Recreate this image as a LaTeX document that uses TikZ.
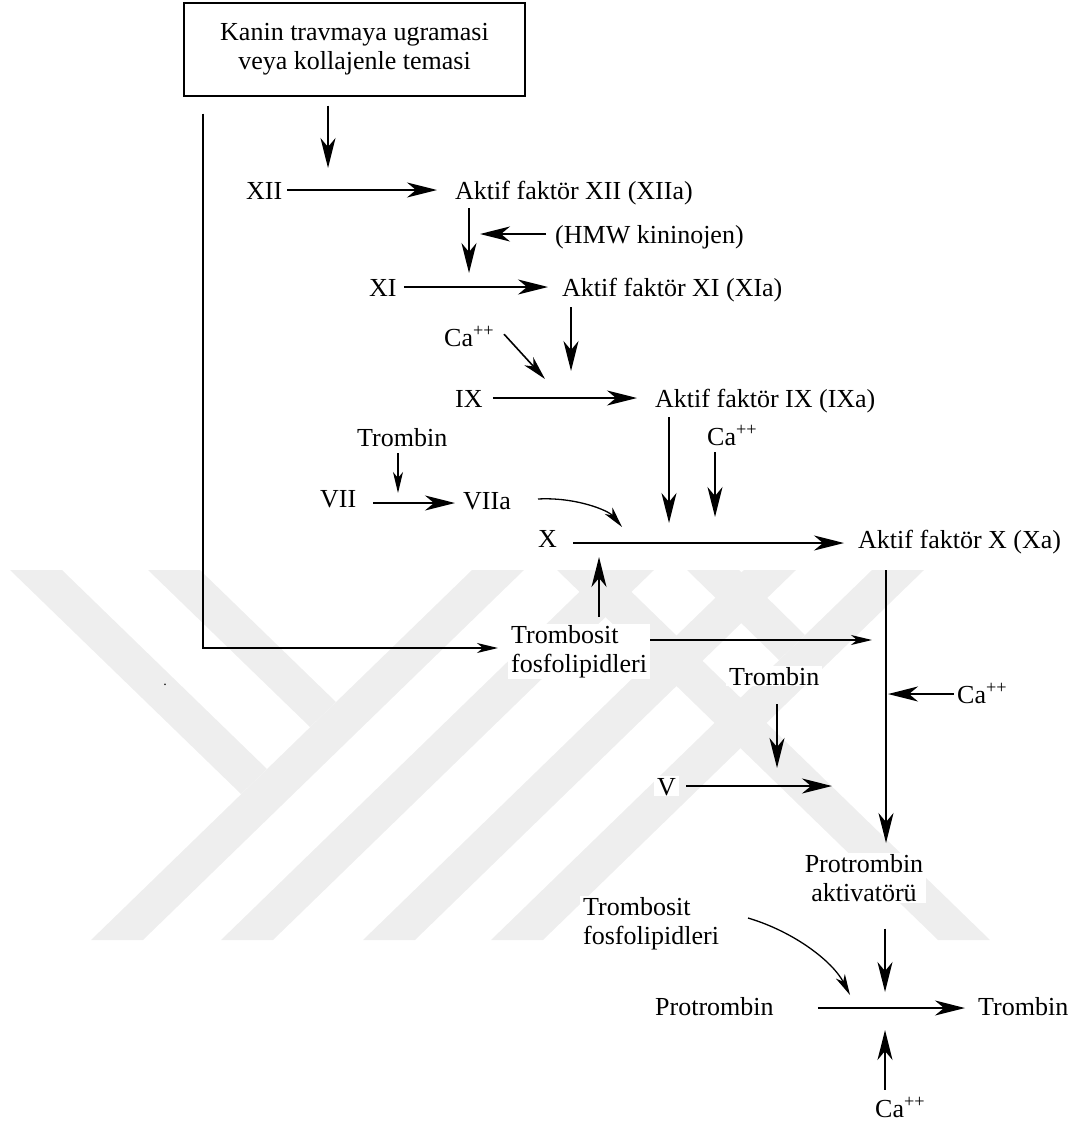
\documentclass[tikz,border=0pt]{standalone}
\usepackage{fontspec}
\setmainfont{Liberation Serif}
\usetikzlibrary{arrows.meta}
\definecolor{filigran}{RGB}{238,238,238}
\begin{document}
\begin{tikzpicture}[x=1pt,y=-1pt,
    yazi/.style={font=\fontsize{26}{29}\selectfont,fill=white,inner xsep=3pt,inner ysep=1pt,text height=18pt,text depth=0pt,anchor=base west},
    yazi2/.style={font=\fontsize{26}{29}\selectfont,fill=white,inner xsep=3pt,inner ysep=1pt,align=left,anchor=north west},
    ok/.style={line width=1.6pt,-{Stealth[length=30pt,width=15pt,inset=9pt]}},
    okk/.style={line width=1.3pt,-{Stealth[length=21pt,width=10pt,inset=6pt]}}]
    \useasboundingbox (0,0) rectangle (1078,1124);
    %filigran
    \fill[filigran] (10,570)--(62,570)--(267,769)--(241,794)--cycle;
    \fill[filigran] (148,570)--(200,570)--(336,702)--(310,727)--cycle;
    \fill[filigran] (472,570)--(524,570)--(143,940)--(91,940)--cycle;
    \fill[filigran] (602,570)--(654,570)--(273,940)--(221,940)--cycle;
    \fill[filigran] (744,570)--(796,570)--(415,940)--(363,940)--cycle;
    \fill[filigran] (872,570)--(924,570)--(543,940)--(491,940)--cycle;
    \fill[filigran] (557,570)--(609,570)--(990,940)--(938,940)--cycle;
    \fill[filigran] (687,570)--(739,570)--(805,635)--(779,660)--cycle;
    %kutu
    \node[draw,line width=1.2pt,minimum width=341pt,minimum height=93pt,align=center,font=\fontsize{26}{29}\selectfont] (kutu) at (354.5,49.5) {Kanin travmaya ugramasi\\veya kollajenle temasi};
    %faktorler
    \node[yazi] (f12) at (243,199) {XII};
    \node[yazi] (f12a) at (452,199) {Aktif faktör XII (XIIa)};
    \node[yazi] (hmw) at (552,243) {(HMW kininojen)};
    \node[yazi] (f11) at (366,296) {XI};
    \node[yazi] (f11a) at (559,296) {Aktif faktör XI (XIa)};
    \node[yazi] (ca1) at (441,346) {Ca\textsuperscript{++}};
    \node[yazi] (f9) at (452,407) {IX};
    \node[yazi] (f9a) at (652,407) {Aktif faktör IX (IXa)};
    \node[yazi] (trb1) at (354,446) {Trombin};
    \node[yazi] (ca2) at (704,445) {Ca\textsuperscript{++}};
    \node[yazi] (f7) at (317,507) {VII};
    \node[yazi] (f7a) at (460,509) {VIIa};
    \node[yazi] (f10) at (535,547) {X};
    \node[yazi] (f10a) at (855,548) {Aktif faktör X (Xa)};
    \node[yazi2] (tf1) at (508,624) {Trombosit\\fosfolipidleri};
    \node[yazi] (trb2) at (726,685) {Trombin};
    \node[yazi] (ca3) at (954,703) {Ca\textsuperscript{++}};
    \node[yazi] (f5) at (654,795) {V};
    \node[yazi2,align=center,anchor=north] (pa) at (864,853) {Protrombin\\aktivatörü};
    \node[yazi2] (tf2) at (580,896) {Trombosit\\fosfolipidleri};
    \node[yazi] (pro) at (652,1015) {Protrombin};
    \node[yazi] (trb3) at (975,1015) {Trombin};
    \node[yazi] (ca4) at (872,1117) {Ca\textsuperscript{++}};
    \node[font=\fontsize{14}{16}\selectfont,inner sep=0pt,anchor=base] (nokta) at (165,685) {.};
    %ok uclari
    \coordinate (t1) at (328,168);
    \coordinate (c1) at (203,648);
    \coordinate (t2) at (498,648);
    \coordinate (t3) at (437,190);
    \coordinate (t4) at (469,273);
    \coordinate (t5) at (480,234);
    \coordinate (t6) at (548,287);
    \coordinate (t7) at (571,371);
    \coordinate (t8) at (545,379);
    \coordinate (t9) at (637,398);
    \coordinate (t10) at (669,523);
    \coordinate (t11) at (715,517);
    \coordinate (t12) at (398,493);
    \coordinate (t13) at (455,503);
    \coordinate (s14) at (538,499);
    \coordinate (t14) at (622,527);
    \coordinate (t15) at (844,543);
    \coordinate (t16) at (599,557);
    \coordinate (t17) at (872,640);
    \coordinate (t18) at (886,843);
    \coordinate (t19) at (888,694);
    \coordinate (t20) at (777,768);
    \coordinate (t21) at (832,786);
    \coordinate (t22) at (885,992);
    \coordinate (s23) at (748,918);
    \coordinate (t23) at (850,995);
    \coordinate (t24) at (965,1008);
    \coordinate (t25) at (885,1030);
    %oklar
    \draw[ok,shorten <=9pt] (kutu.south -| t1) -- (t1);
    \draw[okk,line width=1.6pt,shorten <=17pt] (kutu.south -| c1) -- (c1) -- (t2);
    \draw[ok,shorten <=2pt] (f12) -- (t3);
    \draw[ok,shorten <=8pt] (f12a.south -| t4) -- (t4);
    \draw[ok,shorten <=6pt] (hmw.west) -- (t5);
    \draw[ok,shorten <=4pt] (f11) -- (t6);
    \draw[ok,shorten <=10pt] (f11a.south -| t7) -- (t7);
    \draw[ok,-{Stealth[length=24pt,width=12pt,inset=7pt]},shorten <=10pt] (ca1.north east) -- (t8);
    \draw[ok,shorten <=7pt] (f9) -- (t9);
    \draw[ok,shorten <=9pt] (f9a.south -| t10) -- (t10);
    \draw[ok,shorten <=6pt] (ca2.south -| t11) -- (t11);
    \draw[okk,shorten <=6pt] (trb1.south -| t12) -- (t12);
    \draw[ok,shorten <=14pt] (f7.east |- t13) -- (t13);
    \draw[okk] (s14) .. controls (575,497) and (608,510) .. (t14);
    \draw[ok,shorten <=13pt] (f10.east |- t15) -- (t15);
    \draw[ok,shorten <=7pt] (tf1.north -| t16) -- (t16);
    \draw[okk,line width=1.6pt] (tf1.east |- t17) -- (t17);
    \draw[ok,line width=1.2pt,shorten <=21pt] (f10a.south -| t18) -- (t18);
    \draw[ok] (ca3.west) -- (t19);
    \draw[ok,shorten <=18pt] (trb2.south -| t20) -- (t20);
    \draw[ok,shorten <=7pt] (f5) -- (t21);
    \draw[ok,shorten <=26pt] (pa.south -| t22) -- (t22);
    \draw[okk] (s23) .. controls (795,932) and (833,962) .. (t23);
    \draw[ok,shorten <=41pt] (pro.east |- t24) -- (t24);
    \draw[ok,shorten <=8pt] (ca4.north -| t25) -- (t25);
\end{tikzpicture}
\end{document}
